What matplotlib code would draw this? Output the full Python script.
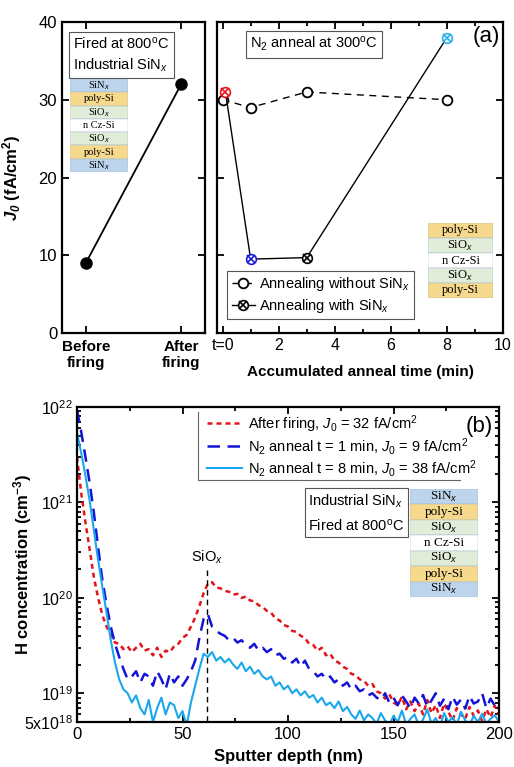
import numpy as np
import matplotlib.pyplot as plt
from matplotlib.lines import Line2D
from matplotlib.patches import Rectangle
from matplotlib.legend_handler import HandlerTuple
from matplotlib.ticker import FixedLocator, NullFormatter, LogLocator

plt.rcParams['font.family'] = 'Liberation Sans'
plt.rcParams['mathtext.fontset'] = 'custom'
plt.rcParams['mathtext.rm'] = 'Liberation Sans'
plt.rcParams['mathtext.it'] = 'Liberation Sans:italic'
plt.rcParams['mathtext.bf'] = 'Liberation Sans:bold'
plt.rcParams['mathtext.bfit'] = 'Liberation Sans:italic:bold'

# ---- panel (a) left: firing ----
fire_labels = ['Before\nfiring', 'After\nfiring']
fire_j0 = [9, 32]

# ---- panel (a) right: N2 anneal ----
t_without = [0, 1, 3, 8]
j0_without = [30, 29, 31, 30]
t_with = [0.1, 1, 3, 8]
j0_with = [31, 9.5, 9.7, 38]
with_colors = ['#e3141b', '#1c1cd8', 'black', '#2aaeec']
anneal_ticks = [0, 2, 4, 6, 8, 10]
anneal_ticklabels = ['t=0', '2', '4', '6', '8', '10']

# ---- panel (b): SIMS H profiles (units of 1e18 cm^-3), depth step 2 nm ----
depth = np.arange(0, 201, 2)
h_fired = [3000, 1250, 620, 320, 165, 100, 66, 50, 41, 34,
           33, 29, 31, 27, 30, 33, 28, 29, 25, 30,
           24, 28, 27, 31, 33, 38, 41, 50, 62, 82,
           112, 140, 146, 128, 126, 118, 116, 108, 110, 100,
           103, 94, 92, 84, 80, 73, 70, 61, 58, 52,
           50, 45, 44, 40, 38, 33, 32, 28, 30, 25,
           26, 22, 21, 19, 18, 16, 15.5, 14, 13.5, 12,
           12.5, 10.5, 10, 8.8, 9.8, 8, 7.5, 9.2, 6.8, 8.2,
           6.5, 7.8, 6, 8.5, 6.2, 7.5, 5.5, 7.8, 6.4, 5.2,
           7, 6, 5.4, 7.2, 5.8, 6.6, 5.1, 6.8, 5.6, 7.4,
           6]
h_1min = [9300, 5500, 3000, 1600, 780, 340, 155, 85, 50, 33,
          24, 18, 14, 15, 17, 13, 16, 15, 12, 17,
          14, 11, 16, 13, 15, 12, 14, 17, 22, 38,
          60, 68, 50, 45, 42, 40, 36, 38, 34, 36,
          32, 30, 33, 28, 30, 27, 29, 25, 26, 23,
          24, 21, 23, 19, 22, 18, 17, 15, 16, 14,
          15, 13, 14, 12, 13, 11, 12, 10.5, 11, 9.5,
          10, 9, 8.5, 10, 8, 9, 7.5, 9.5, 8.2, 7,
          9, 7.8, 9.6, 7.2, 8.4, 10, 7.4, 8.8, 6.8, 9.2,
          7.6, 8.6, 6.9, 9.4, 7.8, 8.2, 10, 7, 8.8, 7.4,
          8.5]
h_8min = [5400, 3300, 1900, 1050, 510, 250, 130, 70, 36, 21,
          14, 11, 10, 8, 9.5, 7, 6, 8.5, 5, 7,
          9, 6, 8, 7.5, 5.5, 6.5, 4.6, 8, 12, 18,
          26, 24, 27, 22, 24, 21, 23, 20, 18, 21,
          17, 19, 16, 17.5, 15, 14, 15, 12, 13, 11,
          12, 10, 11, 9.5, 10.5, 9, 9.6, 8, 9, 7.5,
          8, 7, 8.2, 6.5, 7.2, 6, 5.4, 6.6, 5.2, 6,
          5.5, 4.8, 6.2, 5.2, 4.6, 5.8, 5, 6.6, 4.7, 5.4,
          6, 4.6, 5.3, 6.8, 4.8, 5.5, 4.5, 6.2, 5, 5.6,
          4.7, 6.4, 5.2, 4.6, 5.8, 5, 6.1, 4.8, 5.4, 5.9,
          5]
profile_labels = [r'After firing, $\mathit{J_0}$ = 32 fA/cm$^2$',
                  r'N$_2$ anneal t = 1 min, $\mathit{J_0}$ = 9 fA/cm$^2$',
                  r'N$_2$ anneal t = 8 min, $\mathit{J_0}$ = 38 fA/cm$^2$']
sio_depth = 61.5

stack_full = ['SiN$_x$', 'poly-Si', 'SiO$_x$', 'n Cz-Si', 'SiO$_x$', 'poly-Si', 'SiN$_x$']
stack_bare = ['poly-Si', 'SiO$_x$', 'n Cz-Si', 'SiO$_x$', 'poly-Si']
layer_colors = {'SiN$_x$': '#bcd5ec', 'poly-Si': '#f6d98c', 'SiO$_x$': '#e1ecd9', 'n Cz-Si': 'white'}

W, H = 514, 767


def px_rect(x0, y0, x1, y1):
    return [x0 / W, 1 - y1 / H, (x1 - x0) / W, (y1 - y0) / H]


def draw_stack(fig, rect, layers, fs):
    ax = fig.add_axes(rect)
    ax.set_xlim(0, 1)
    ax.set_ylim(0, len(layers))
    ax.axis('off')
    for i, name in enumerate(layers):
        y = len(layers) - i - 1
        ax.add_patch(Rectangle((0, y), 1, 1, fc=layer_colors[name], ec='#9bb5cc', lw=0.3))
        ax.text(0.5, y + 0.5, name, ha='center', va='center', fontsize=fs,
                family='Liberation Serif')


def style_ticks(ax):
    ax.tick_params(which='both', direction='in', top=True, right=True, width=1.3)
    ax.tick_params(which='major', length=5)
    ax.tick_params(which='minor', length=3)
    for s in ax.spines.values():
        s.set_linewidth(1.6)


fig = plt.figure(figsize=(W / 100, H / 100), dpi=100)

# ---- (a) left ----
ax1 = fig.add_axes(px_rect(62, 22, 205, 333))
ax1.plot(range(len(fire_j0)), fire_j0, '-o', color='black', lw=1.3, ms=8)
ax1.set_xlim(-0.25, 1.25)
ax1.set_ylim(0, 40)
ax1.set_yticks([0, 10, 20, 30, 40])
ax1.set_xticks(range(len(fire_labels)))
ax1.set_xticklabels(fire_labels, fontweight='bold', fontsize=11)
ax1.tick_params(axis='y', labelsize=12)
style_ticks(ax1)
ax1.tick_params(axis='x', pad=5)
ax1.set_ylabel(r'$\mathbfit{J_0}$ (fA/cm$^\mathbf{2}$)', fontweight='bold', fontsize=12)
ax1.yaxis.set_label_coords(-0.27, 0.5)
ax1.text(0.08, 0.957, 'Fired at 800$^\\mathrm{o}$C\nIndustrial SiN$_x$', transform=ax1.transAxes,
         ha='left', va='top', fontsize=10.5, linespacing=1.4,
         bbox=dict(boxstyle='square,pad=0.3', fc='white', ec='#555555', lw=0.8))

# ---- (a) right ----
ax2 = fig.add_axes(px_rect(217, 22, 503, 333))
ax2.plot(t_without, j0_without, color='black', ls=(0, (5, 4)), lw=1.0,
         marker='o', ms=7, mfc='white', mec='black', mew=1.3)
ax2.plot(t_with, j0_with, color='black', lw=1.0)
for t, j, c in zip(t_with, j0_with, with_colors):
    ax2.plot(t, j, 'o', ms=7, mfc='white', mec=c, mew=1.2)
    ax2.plot(t, j, 'x', ms=5.5, mec=c, mew=1.2)
ax2.set_xlim(-0.2, 10)
ax2.set_ylim(0, 40)
ax2.set_yticks([0, 10, 20, 30, 40])
ax2.set_yticklabels([])
ax2.set_xticks(anneal_ticks)
ax2.set_xticklabels(anneal_ticklabels, fontsize=11.5)
ax2.xaxis.set_minor_locator(FixedLocator([1, 3, 5, 7, 9]))
style_ticks(ax2)
ax2.set_xlabel('Accumulated anneal time (min)', fontweight='bold', fontsize=11, labelpad=9)
ax2.text(0.115, 0.958, 'N$_2$ anneal at 300$^\\mathrm{o}$C', transform=ax2.transAxes,
         ha='left', va='top', fontsize=10.5,
         bbox=dict(boxstyle='square,pad=0.3', fc='white', ec='#555555', lw=0.8))
ax2.text(0.99, 0.952, '(a)', transform=ax2.transAxes, ha='right', va='center', fontsize=16)
h_without = Line2D([], [], color='black', ls=(0, (5, 4)), lw=1.0, marker='o', ms=7,
                   mfc='white', mec='black', mew=1.3)
h_with_o = Line2D([], [], color='black', lw=1.0, marker='o', ms=7, mfc='white', mec='black', mew=1.2)
h_with_x = Line2D([], [], ls='none', marker='x', ms=5.5, mec='black', mew=1.2)
leg2 = ax2.legend([h_without, (h_with_o, h_with_x)],
                  ['Annealing without SiN$_x$', 'Annealing with SiN$_x$'],
                  handler_map={tuple: HandlerTuple(ndivide=1)},
                  loc='lower left', bbox_to_anchor=(0.01, 0.02), fontsize=10.5,
                  handlelength=1.6, handletextpad=0.3, labelspacing=0.25,
                  borderpad=0.3, fancybox=False, edgecolor='#555555', framealpha=1)
leg2.get_frame().set_linewidth(0.8)

draw_stack(fig, px_rect(70, 79, 128, 172), stack_full, 7.5)
draw_stack(fig, px_rect(428, 223, 493, 298), stack_bare, 9)

# ---- (b) ----
ax3 = fig.add_axes(px_rect(77, 407, 499, 722))
conc = [np.array(h_fired) * 1e18, np.array(h_1min) * 1e18, np.array(h_8min) * 1e18]
styles = [dict(color='#e3141b', ls=(0, (2, 1.6)), lw=1.8),
          dict(color='#1414d8', ls=(0, (5, 3)), lw=1.8),
          dict(color='#1aa7ec', ls='-', lw=1.5)]
for c, st, lab in zip(conc, styles, profile_labels):
    ax3.plot(depth, c, label=lab, **st)
ax3.set_yscale('log')
ax3.set_xlim(0, 200)
ax3.set_ylim(5e18, 1e22)
ax3.yaxis.set_major_locator(FixedLocator([5e18, 1e19, 1e20, 1e21, 1e22]))
ax3.set_yticklabels(['5x10$^{18}$', '10$^{19}$', '10$^{20}$', '10$^{21}$', '10$^{22}$'])
ax3.yaxis.set_minor_locator(LogLocator(base=10, subs=np.arange(2, 10), numticks=20))
ax3.yaxis.set_minor_formatter(NullFormatter())
ax3.set_xticks([0, 50, 100, 150, 200])
ax3.xaxis.set_minor_locator(FixedLocator([25, 75, 125, 175]))
ax3.tick_params(labelsize=12)
ax3.tick_params(axis='y', labelsize=11.5, pad=3)
style_ticks(ax3)
ax3.set_xlabel('Sputter depth (nm)', fontweight='bold', fontsize=12, labelpad=5)
ax3.set_ylabel('H concentration (cm$^{\\mathbf{-3}}$)', fontweight='bold', fontsize=12)
ax3.yaxis.set_label_coords(-0.102, 0.5)
ax3.plot([sio_depth, sio_depth], [1.95e20, 5e18], color='black', ls=(0, (4, 3)), lw=1.0)
ax3.text(sio_depth, 2.15e20, 'SiO$_x$', ha='center', va='bottom', fontsize=10.5)
ax3.text(0.986, 0.937, '(b)', transform=ax3.transAxes, ha='right', va='center', fontsize=16)
ax3.legend(loc='upper left', bbox_to_anchor=(0.28, 1.018), fontsize=10.5, frameon=False,
           handlelength=2.4, handletextpad=0.4, labelspacing=0.08, borderpad=0.3)
ax3.plot([0.287, 0.287, 0.908], [0.984, 0.768, 0.768], transform=ax3.transAxes,
         color='#666666', lw=0.8, clip_on=False)
ax3.text(0.548, 0.728, 'Industrial SiN$_x$\nFired at 800$^\\mathrm{o}$C', transform=ax3.transAxes,
         ha='left', va='top', fontsize=10.5, linespacing=1.55,
         bbox=dict(boxstyle='square,pad=0.25', fc='white', ec='#555555', lw=0.8))
draw_stack(fig, px_rect(410, 489, 478, 597), stack_full, 9.5)

fig.savefig('out.png', dpi=100)
